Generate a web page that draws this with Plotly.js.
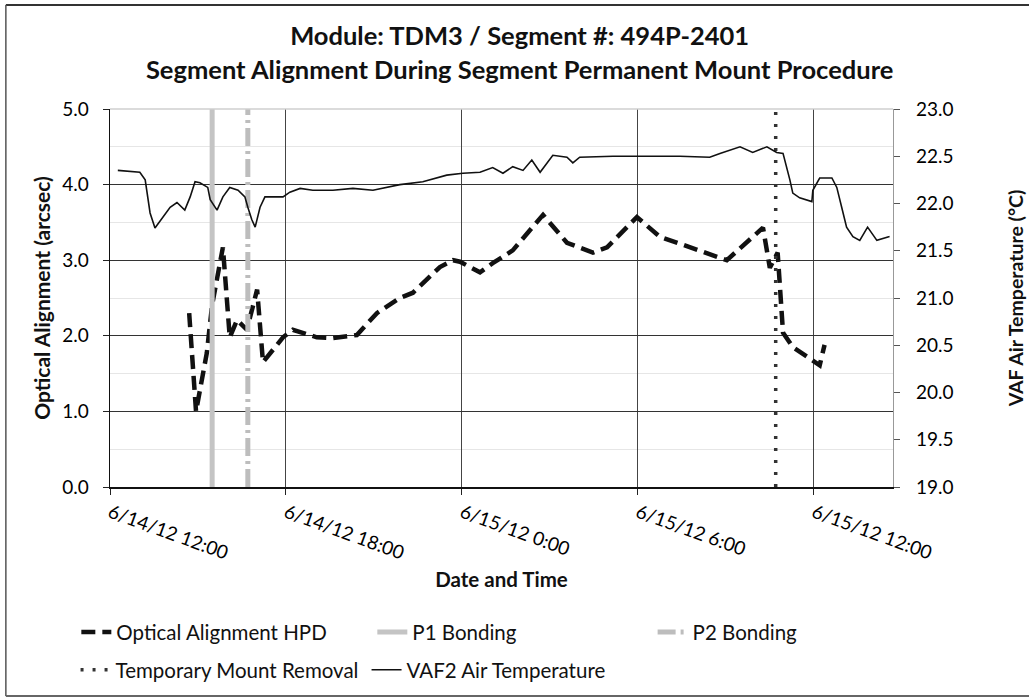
<!DOCTYPE html>
<html>
<head>
<meta charset="utf-8">
<script src="https://cdn.plot.ly/plotly-3.0.1.min.js"></script>
<style>
  html, body { margin: 0; padding: 0; background: #fff; }
  #chart { width: 1029px; height: 698px; }
</style>
</head>
<body>
<div id="chart"></div>
<script>
// ---- Data ----
const hpdTimes = [
  '2012-06-14 14:42','2012-06-14 14:56','2012-06-14 15:18','2012-06-14 15:29','2012-06-14 15:51',
  '2012-06-14 16:05','2012-06-14 16:20','2012-06-14 16:40','2012-06-14 17:01','2012-06-14 17:13',
  '2012-06-14 17:54','2012-06-14 18:14','2012-06-14 19:03','2012-06-14 19:36','2012-06-14 20:25',
  '2012-06-14 21:06','2012-06-14 21:53','2012-06-14 22:20','2012-06-14 23:15','2012-06-14 23:42',
  '2012-06-14 23:56','2012-06-15 00:37','2012-06-15 01:03','2012-06-15 01:44','2012-06-15 02:46',
  '2012-06-15 03:35','2012-06-15 04:28','2012-06-15 04:57','2012-06-15 05:58','2012-06-15 06:45',
  '2012-06-15 09:02','2012-06-15 10:16','2012-06-15 10:30','2012-06-15 10:46','2012-06-15 10:57',
  '2012-06-15 11:17','2012-06-15 12:12','2012-06-15 12:22'
];
const hpdValues = [
  2.30, 1.00, 1.77, 2.41, 3.17,
  1.98, 2.21, 2.08, 2.61, 1.65,
  1.98, 2.08, 1.98, 1.97, 2.01,
  2.30, 2.50, 2.57, 2.91, 3.00,
  2.98, 2.84, 2.96, 3.13, 3.60,
  3.23, 3.10, 3.17, 3.57, 3.31,
  3.00, 3.43, 2.90, 3.10, 2.04,
  1.85, 1.61, 1.88
];

const tempTimes = [
  '2012-06-14 12:16','2012-06-14 13:01','2012-06-14 13:12','2012-06-14 13:22','2012-06-14 13:32',
  '2012-06-14 13:48','2012-06-14 14:03','2012-06-14 14:17','2012-06-14 14:33','2012-06-14 14:44',
  '2012-06-14 14:54','2012-06-14 15:04','2012-06-14 15:20','2012-06-14 15:25','2012-06-14 15:39',
  '2012-06-14 15:51','2012-06-14 16:05','2012-06-14 16:22','2012-06-14 16:36','2012-06-14 16:42',
  '2012-06-14 16:50','2012-06-14 16:57','2012-06-14 17:07','2012-06-14 17:17','2012-06-14 17:54',
  '2012-06-14 18:08','2012-06-14 18:29','2012-06-14 18:55','2012-06-14 19:36','2012-06-14 20:17',
  '2012-06-14 20:58','2012-06-14 21:53','2012-06-14 22:40','2012-06-14 23:29','2012-06-15 00:02',
  '2012-06-15 00:37','2012-06-15 01:03','2012-06-15 01:24','2012-06-15 01:44','2012-06-15 02:05',
  '2012-06-15 02:23','2012-06-15 02:40','2012-06-15 03:06','2012-06-15 03:35','2012-06-15 03:47',
  '2012-06-15 04:01','2012-06-15 05:09','2012-06-15 07:26','2012-06-15 08:27','2012-06-15 08:48',
  '2012-06-15 09:29','2012-06-15 09:55','2012-06-15 10:24','2012-06-15 10:44','2012-06-15 10:57',
  '2012-06-15 11:11','2012-06-15 11:17','2012-06-15 11:31','2012-06-15 11:46','2012-06-15 11:56',
  '2012-06-15 11:58','2012-06-15 12:12','2012-06-15 12:37','2012-06-15 12:47','2012-06-15 12:57',
  '2012-06-15 13:07','2012-06-15 13:20','2012-06-15 13:34','2012-06-15 13:50','2012-06-15 14:09',
  '2012-06-15 14:35'
];
const tempValues = [
  22.35, 22.33, 22.25, 21.90, 21.74,
  21.85, 21.96, 22.01, 21.93, 22.07,
  22.23, 22.22, 22.17, 22.04, 21.93,
  22.07, 22.17, 22.14, 22.07, 21.96,
  21.83, 21.75, 21.96, 22.07, 22.07,
  22.12, 22.16, 22.14, 22.14, 22.16,
  22.14, 22.20, 22.23, 22.30, 22.32,
  22.33, 22.38, 22.32, 22.39, 22.35,
  22.46, 22.33, 22.51, 22.49, 22.43,
  22.49, 22.50, 22.50, 22.49, 22.53,
  22.60, 22.54, 22.60, 22.54, 22.53,
  22.25, 22.11, 22.06, 22.04, 22.02,
  22.14, 22.27, 22.27, 22.17, 21.96,
  21.75, 21.65, 21.61, 21.75, 21.61,
  21.65
];

const p1BondingTime = '2012-06-14 15:29';
const p2BondingTime = '2012-06-14 16:42';
const mountRemovalTime = '2012-06-15 10:42';
const alignRange = [0, 5];
const tempRange = [19, 23];
const timeRange = ['2012-06-14 12:00', '2012-06-15 14:42'];

const titleLines = ['Module: TDM3 / Segment #: 494P-2401',
                    'Segment Alignment During Segment Permanent Mount Procedure'];
const seriesNames = ['Optical Alignment HPD', 'P1 Bonding', 'P2 Bonding',
                     'Temporary Mount Removal', 'VAF2 Air Temperature'];

// ---- Traces ----
const FONT = 'Lato, "Open Sans", sans-serif';

const traces = [
  {
    name: seriesNames[0], x: hpdTimes, y: hpdValues, type: 'scatter', mode: 'lines',
    line: {color: '#111', width: 4.5, dash: '14px,7px'}, legend: 'legend', yaxis: 'y'
  },
  {
    name: seriesNames[1], x: [p1BondingTime, p1BondingTime], y: alignRange, type: 'scatter', mode: 'lines',
    line: {color: '#c4c4c4', width: 5}, legend: 'legend', yaxis: 'y'
  },
  {
    name: seriesNames[2], x: [p2BondingTime, p2BondingTime], y: alignRange, type: 'scatter', mode: 'lines',
    line: {color: '#bdbdbd', width: 5, dash: '18px,5px,3px,5px'}, legend: 'legend3', yaxis: 'y'
  },
  {
    name: seriesNames[3], x: [mountRemovalTime, mountRemovalTime], y: alignRange, type: 'scatter', mode: 'lines',
    line: {color: '#333', width: 3.5, dash: '3px,9px'}, legend: 'legend2', yaxis: 'y'
  },
  {
    name: seriesNames[4], x: tempTimes, y: tempValues, type: 'scatter', mode: 'lines',
    line: {color: '#111', width: 1.6}, legend: 'legend2', yaxis: 'y2'
  }
];

const legendBase = {
  orientation: 'h', xanchor: 'left', yanchor: 'middle',
  entrywidthmode: 'pixels', traceorder: 'normal',
  font: {family: FONT, size: 20.5, color: '#111'}, bgcolor: 'rgba(0,0,0,0)'
};

const layout = {
  width: 1029, height: 698,
  paper_bgcolor: '#fff', plot_bgcolor: '#fff',
  font: {family: FONT, color: '#111', size: 19},
  margin: {l: 110, r: 136, t: 109, b: 211, autoexpand: false},
  title: {
    text: '<b>' + titleLines[0] + '</b><br><b>' + titleLines[1] + '</b>',
    font: {family: FONT, size: 25.5, color: '#111'},
    xref: 'container', x: 0.505, xanchor: 'center',
    yref: 'container', y: 0.935, yanchor: 'top'
  },
  xaxis: {
    type: 'date', range: timeRange, automargin: false,
    tick0: '2012-06-14 12:00', dtick: 6 * 3600 * 1000,
    tickformat: '%-m/%-d/%y %-H:%M', tickangle: 20,
    tickfont: {family: FONT, size: 19, color: '#000'},
    ticks: 'outside', ticklen: 6, tickcolor: '#222',
    showline: true, linecolor: '#111', linewidth: 1.5,
    showgrid: true, gridcolor: '#444', gridwidth: 1,
    zeroline: false,
    title: {text: '<b>Date and Time</b>', font: {family: FONT, size: 20.5, color: '#111'}, standoff: 10}
  },
  yaxis: {
    range: alignRange, dtick: 1, tickformat: '.1f', automargin: false,
    tickfont: {family: FONT, size: 19, color: '#000'},
    ticks: 'outside', ticklen: 6, tickcolor: '#222', ticklabelstandoff: 10,
    showline: true, linecolor: '#111', linewidth: 1.5,
    showgrid: true, gridcolor: '#333', gridwidth: 1,
    minor: {dtick: 0.5, showgrid: true, gridcolor: '#e6e6e6', gridwidth: 1},
    zeroline: false,
    title: {text: '<b>Optical Alignment (arcsec)</b>', font: {family: FONT, size: 21, color: '#111'}, standoff: 6}
  },
  yaxis2: {
    overlaying: 'y', side: 'right', range: tempRange, dtick: 0.5, tickformat: '.1f', automargin: false,
    tickfont: {family: FONT, size: 19, color: '#000'},
    ticks: 'outside', ticklen: 6, tickcolor: '#555', ticklabelstandoff: 12,
    showline: true, linecolor: '#999', linewidth: 1.2,
    showgrid: false, zeroline: false,
    title: {text: '<b>VAF Air Temperature (°C)</b>', font: {family: FONT, size: 19.5, color: '#111'}, standoff: 56}
  },
  showlegend: true,
  legend: Object.assign({}, legendBase, {x: -0.043, y: -0.384, entrywidth: 251}),
  legend3: Object.assign({}, legendBase, {x: 0.693, y: -0.384, entrywidth: 200}),
  legend2: Object.assign({}, legendBase, {x: -0.044, y: -0.484, entrywidth: 246}),
  shapes: [
    // plot-area frame (top edge, light)
    {type: 'line', xref: 'paper', yref: 'paper', x0: 0, x1: 1, y0: 1, y1: 1, line: {color: '#cfcfcf', width: 1.5}},
    // outer chart border: top, left, bottom
    {type: 'line', xref: 'paper', yref: 'paper', x0: -0.133, x1: 1.174, y0: 1.275, y1: 1.275, line: {color: '#333', width: 2}},
    {type: 'line', xref: 'paper', yref: 'paper', x0: -0.133, x1: -0.133, y0: 1.275, y1: -0.553, line: {color: '#555', width: 1.5}},
    {type: 'line', xref: 'paper', yref: 'paper', x0: -0.133, x1: 1.174, y0: -0.553, y1: -0.553, line: {color: '#666', width: 2}}
  ]
};

Plotly.newPlot('chart', traces, layout, {staticPlot: true, displayModeBar: false});
</script>
</body>
</html>
